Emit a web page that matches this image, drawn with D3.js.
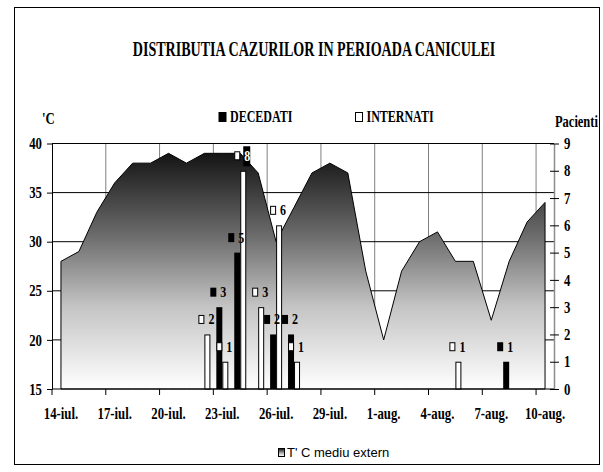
<!DOCTYPE html>
<html>
<head>
<meta charset="utf-8">
<script src="https://cdn.jsdelivr.net/npm/d3@7"></script>
<style>
  body { margin: 0; background: #fff; }
  text { font-family: "Liberation Serif", "Times New Roman", serif; font-weight: bold; fill: #000; }
</style>
</head>
<body>
<div id="chart"></div>
<script>
"use strict";

let svgWidth = 603;
let svgHeight = 472;

/* Data */
let days = ["14-iul.", "15-iul.", "16-iul.", "17-iul.", "18-iul.", "19-iul.", "20-iul.",
  "21-iul.", "22-iul.", "23-iul.", "24-iul.", "25-iul.", "26-iul.", "27-iul.", "28-iul.",
  "29-iul.", "30-iul.", "31-iul.", "1-aug.", "2-aug.", "3-aug.", "4-aug.", "5-aug.",
  "6-aug.", "7-aug.", "8-aug.", "9-aug.", "10-aug."];

// T'C mediu extern
let tempValues = [28, 29, 33, 36, 38, 38, 39, 38, 39, 39, 39, 37, 30, 33.5, 37,
  38, 37, 27, 20, 27, 30, 31, 28, 28, 22, 28, 32, 34];

// pacienti
let decedati = [0, 0, 0, 0, 0, 0, 0, 0, 0, 3, 5, 0, 2, 2, 0,
  0, 0, 0, 0, 0, 0, 0, 0, 0, 0, 1, 0, 0];
let internati = [0, 0, 0, 0, 0, 0, 0, 0, 2, 1, 8, 3, 6, 1, 0,
  0, 0, 0, 0, 0, 0, 0, 1, 0, 0, 0, 0, 0];

let tempTicks = [15, 20, 25, 30, 35, 40];
let patientTicks = [0, 1, 2, 3, 4, 5, 6, 7, 8, 9];
let shownDays = days.filter((d, i) => i % 3 === 0);

/* Canvas */
let svg = d3.select("#chart")
  .append("svg")
  .attr("width", svgWidth)
  .attr("height", svgHeight);

let defs = svg.append("defs");
let grad = defs.append("linearGradient")
  .attr("id", "tempGrad")
  .attr("x1", 0).attr("y1", 0).attr("x2", 0).attr("y2", 1);
[[0, "#141414"], [0.35, "#6c6c6c"], [0.65, "#c4c4c4"], [1, "#ffffff"]].forEach(s => {
  grad.append("stop").attr("offset", s[0]).attr("stop-color", s[1]);
});

/* Outer frame */
svg.append("rect")
  .attr("x", 14.5).attr("y", 7.5)
  .attr("width", 585).attr("height", 457)
  .attr("fill", "#fff")
  .attr("stroke", "#000");

/* Scales */
let plotLeft = 52, plotRight = 554, plotTop = 143.5, plotBottom = 389;

let xScale = d3.scaleBand()
  .domain(days)
  .range([plotLeft, plotRight])
  .padding(0);
let bw = xScale.bandwidth();
let cx = d => xScale(d) + bw / 2;

let yTemp = d3.scaleLinear().domain([15, 40]).range([plotBottom, plotTop]);
let yPat = d3.scaleLinear().domain([0, 9]).range([plotBottom, plotTop]);

/* Grid */
svg.append("g")
  .selectAll("line")
  .data(shownDays.slice(1))
  .enter()
  .append("line")
  .attr("x1", d => xScale(d)).attr("x2", d => xScale(d))
  .attr("y1", plotTop).attr("y2", plotBottom)
  .attr("stroke", "#808080");

svg.append("g")
  .selectAll("line")
  .data(tempTicks.slice(1))
  .enter()
  .append("line")
  .attr("x1", plotLeft).attr("x2", plotRight)
  .attr("y1", d => yTemp(d)).attr("y2", d => yTemp(d))
  .attr("stroke", "#000");

/* Temperature area */
let tempData = days.map((d, i) => ({ day: d, t: tempValues[i] }));
let area = d3.area()
  .x(d => cx(d.day))
  .y0(yTemp(15))
  .y1(d => yTemp(d.t));

svg.append("path")
  .datum(tempData)
  .attr("d", area)
  .attr("fill", "url(#tempGrad)")
  .attr("stroke", "#000")
  .attr("stroke-width", 1);

/* Bars */
let barW = 6;

svg.append("g")
  .selectAll("rect")
  .data(days.map((d, i) => ({ day: d, v: decedati[i] })).filter(d => d.v > 0))
  .enter()
  .append("rect")
  .attr("x", d => cx(d.day) - barW)
  .attr("width", barW)
  .attr("y", d => yPat(d.v))
  .attr("height", d => yPat(0) - yPat(d.v))
  .attr("fill", "#000");

svg.append("g")
  .selectAll("rect")
  .data(days.map((d, i) => ({ day: d, v: internati[i] })).filter(d => d.v > 0))
  .enter()
  .append("rect")
  .attr("x", d => cx(d.day) + 0.5)
  .attr("width", barW - 1)
  .attr("y", d => yPat(d.v) + 0.5)
  .attr("height", d => yPat(0) - yPat(d.v) - 0.5)
  .attr("fill", "#fff")
  .attr("stroke", "#000");

/* Value labels */
function addLabel(x, v, dark, inverted) {
  let cy = yPat(v) - 15;
  svg.append("rect")
    .attr("x", x - 9 + (dark ? 0 : 0.5)).attr("y", cy - 4.5 + (dark ? 0 : 0.5))
    .attr("width", dark ? 6 : 5).attr("height", dark ? 9 : 8)
    .attr("fill", dark ? "#000" : "#fff")
    .attr("stroke", dark ? "none" : "#000");
  if (inverted) {
    svg.append("rect")
      .attr("x", x).attr("y", cy - 9.5)
      .attr("width", 7).attr("height", 20)
      .attr("fill", "#000");
  }
  svg.append("text")
    .attr("transform", `translate(${x + 1},${cy + 5}) scale(0.8,1)`)
    .attr("font-size", "15px")
    .style("fill", inverted ? "#fff" : "#000")
    .text(v);
}

days.forEach((d, i) => {
  if (decedati[i] > 0) addLabel(cx(d) - 3, decedati[i], true, false);
  if (internati[i] > 0) addLabel(cx(d) + 3, internati[i], false, internati[i] === 8);
});

/* Left axis */
let leftAxis = svg.append("g")
  .attr("transform", `translate(${plotLeft},0)`)
  .call(d3.axisLeft(yTemp).tickValues(tempTicks).tickSize(5).tickSizeOuter(0));
leftAxis.select(".domain").attr("stroke", "#000");
leftAxis.selectAll("text")
  .attr("x", -12.5)
  .attr("font-size", "16px")
  .attr("font-family", null)
  .attr("transform", "scale(0.8,1)");

/* Right axis */
let rightAxis = svg.append("g")
  .attr("transform", `translate(${plotRight},0)`)
  .call(d3.axisRight(yPat).tickValues(patientTicks).tickSize(5).tickSizeOuter(0));
rightAxis.select(".domain").attr("stroke", "#8c8c8c").attr("stroke-width", 1.5);
rightAxis.selectAll(".tick line").attr("x1", -4);
rightAxis.selectAll("text")
  .attr("x", 12.5)
  .attr("font-size", "16px")
  .attr("font-family", null)
  .attr("transform", "scale(0.8,1)");

/* Bottom axis */
svg.append("line")
  .attr("x1", plotLeft).attr("x2", plotRight)
  .attr("y1", plotBottom).attr("y2", plotBottom)
  .attr("stroke", "#000");

svg.append("g")
  .selectAll("line")
  .data(shownDays)
  .enter()
  .append("line")
  .attr("x1", d => xScale(d)).attr("x2", d => xScale(d))
  .attr("y1", plotBottom).attr("y2", plotBottom + 6)
  .attr("stroke", "#000");

svg.append("g")
  .selectAll("text")
  .data(shownDays)
  .enter()
  .append("text")
  .attr("transform", d => `translate(${cx(d)},${plotBottom + 30}) scale(0.8,1)`)
  .attr("text-anchor", "middle")
  .attr("font-size", "16px")
  .text(d => d);

/* Titles */
svg.append("text")
  .attr("transform", "translate(314,56) scale(0.67,1)")
  .attr("text-anchor", "middle")
  .attr("font-size", "21px")
  .text("DISTRIBUTIA CAZURILOR IN PERIOADA CANICULEI");

svg.append("text")
  .attr("transform", "translate(42,124) scale(0.8,1)")
  .attr("font-size", "16px")
  .text("'C");

svg.append("text")
  .attr("transform", "translate(555,127) scale(0.78,1)")
  .attr("font-size", "16px")
  .text("Pacienti");

/* Top legend */
let legendItems = [
  { label: "DECEDATI", x: 219, dark: true },
  { label: "INTERNATI", x: 355.5, dark: false }
];
legendItems.forEach(item => {
  svg.append("rect")
    .attr("x", item.x).attr("y", 112.5)
    .attr("width", 7).attr("height", 9)
    .attr("fill", item.dark ? "#000" : "#fff")
    .attr("stroke", "#000");
  svg.append("text")
    .attr("transform", `translate(${item.x + 11},122) scale(0.75,1)`)
    .attr("font-size", "16px")
    .text(item.label);
});

/* Bottom legend */
svg.append("rect")
  .attr("x", 278.5).attr("y", 448.5)
  .attr("width", 6).attr("height", 8)
  .attr("fill", "url(#tempGrad)")
  .attr("stroke", "#000");

svg.append("text")
  .attr("x", 287)
  .attr("y", 457)
  .style("font-family", "'Liberation Sans', Arial, sans-serif")
  .style("font-weight", "normal")
  .attr("font-size", "13px")
  .text("T' C mediu extern");
</script>
</body>
</html>
